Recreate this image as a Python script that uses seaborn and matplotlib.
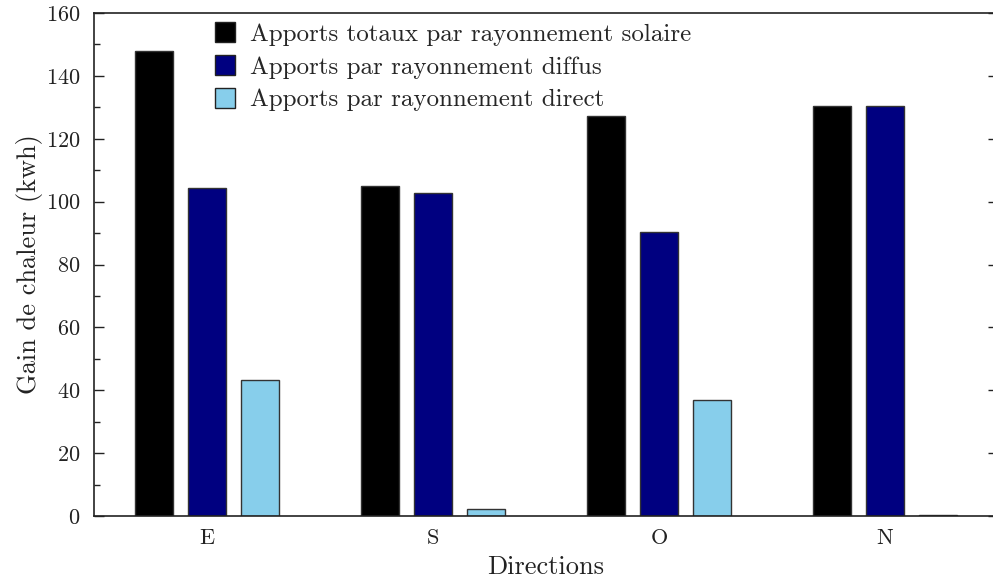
import matplotlib
matplotlib.use("Agg")
import matplotlib.pyplot as plt
from matplotlib.ticker import MultipleLocator
import seaborn as sns
import pandas as pd

directions = ["E", "S", "O", "N"]
series_names = [
    "Apports totaux par rayonnement solaire",
    "Apports par rayonnement diffus",
    "Apports par rayonnement direct",
]
totaux = [147.8, 105.0, 127.3, 130.4]
diffus = [104.3, 102.8, 90.4, 130.4]
direct = [43.4, 2.2, 36.9, 0.2]
colors = ["#000000", "#000080", "#87CEEB"]

rows = []
for name, vals in zip(series_names, [totaux, diffus, direct]):
    for d, v in zip(directions, vals):
        rows.append({"Direction": d, "Serie": name, "Valeur": v})
df = pd.DataFrame(rows)

sns.set_theme(style="ticks")
plt.rcParams["font.family"] = "serif"
plt.rcParams["font.serif"] = ["cmr10", "DejaVu Serif"]
plt.rcParams["mathtext.fontset"] = "cm"
plt.rcParams["axes.formatter.use_mathtext"] = True
plt.rcParams["axes.unicode_minus"] = False

fig = plt.figure(figsize=(9.93, 5.80), dpi=100)
ax = fig.add_axes([94 / 993, 1 - 516 / 580, 904 / 993, 503 / 580])

sns.barplot(
    data=df, x="Direction", y="Valeur", hue="Serie",
    hue_order=series_names, order=directions, palette=colors,
    width=0.70, gap=0.28, edgecolor="#333333", linewidth=1.0,
    saturation=1.0, ax=ax, legend=True,
)

ax.set_ylim(0, 160)
ax.set_xlim(-0.5, 3.5)
ax.yaxis.set_major_locator(MultipleLocator(20))
ax.yaxis.set_minor_locator(MultipleLocator(10))
ax.tick_params(axis="y", which="major", direction="in", length=7, width=1.0,
               labelsize=16, right=True, pad=10, colors="#222222",
               labelcolor="#222222")
ax.tick_params(axis="y", which="minor", direction="in", length=4, width=1.0,
               left=True, right=False, colors="#222222")
ax.tick_params(axis="x", length=0, labelsize=16, pad=9, labelcolor="#222222")
for name, s in ax.spines.items():
    s.set_linewidth(1.2)
    s.set_color("#222222")
    s.set_visible(name != "right")

ax.set_xlabel("Directions", fontsize=19, labelpad=5, color="#222222")
ax.set_ylabel("Gain de chaleur (kwh)", fontsize=19, labelpad=2, color="#222222")

leg = ax.legend(
    loc="upper left", bbox_to_anchor=(0.115, 1.016), frameon=False,
    fontsize=18, handlelength=0.8, handleheight=0.85, handletextpad=0.6,
    labelspacing=0.36, borderaxespad=0.3,
)
for h in leg.legend_handles:
    h.set_edgecolor("#222222")
    h.set_linewidth(1.0)

fig.savefig("out.png", dpi=100)
